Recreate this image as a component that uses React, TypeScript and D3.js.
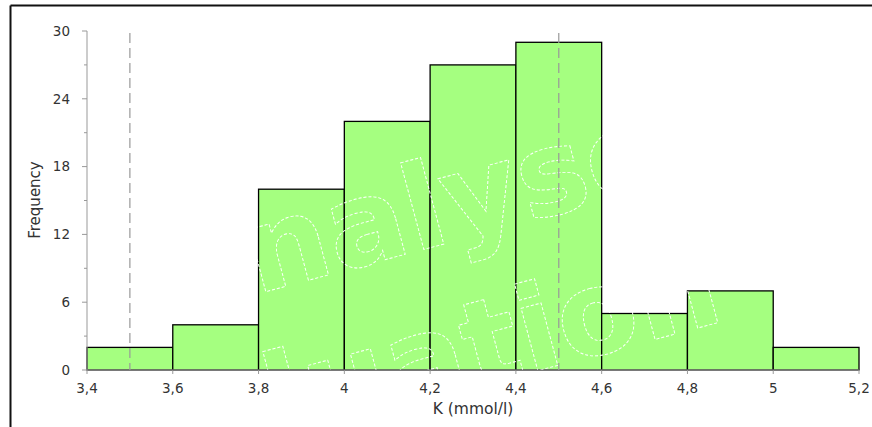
import React from "react";
import * as d3 from "d3";

const binStarts = [3.4, 3.6, 3.8, 4.0, 4.2, 4.4, 4.6, 4.8, 5.0];
const binWidth = 0.2;
const frequencies = [2, 4, 16, 22, 27, 29, 5, 7, 2];
const xTicks = [3.4, 3.6, 3.8, 4.0, 4.2, 4.4, 4.6, 4.8, 5.0, 5.2];
const yTicks = [0, 6, 12, 18, 24, 30];
const yMinorTicks = [3, 9, 15, 21, 27];
const refLines = [3.5, 4.5];
const xTitle = "K (mmol/l)";
const yTitle = "Frequency";
const watermark = ["Analyse-it", "evaluation"];

const W = 872;
const H = 427;
const plot = { left: 87, right: 859, top: 31, bottom: 370 };
const font = "'DejaVu Sans', Verdana, sans-serif";

export default function App() {
  const x = d3.scaleLinear().domain([3.4, 5.2]).range([plot.left, plot.right]);
  const y = d3.scaleLinear().domain([0, 30]).range([plot.bottom, plot.top]);
  const fmt = (v: number) => String(+v.toFixed(1)).replace(".", ",");

  return (
    <svg
      width={W}
      height={H}
      style={{ position: "absolute", left: 0, top: 0, background: "#fff" }}
    >
      <defs>
        <clipPath id="plotclip">
          <rect x={plot.left} y={plot.top} width={plot.right - plot.left} height={plot.bottom - plot.top} />
        </clipPath>
      </defs>
      {/* frame */}
      <line x1={10.5} y1={5.5} x2={W} y2={5.5} stroke="#111" strokeWidth={2} />
      <line x1={10.5} y1={5.5} x2={10.5} y2={H} stroke="#111" strokeWidth={2} />

      {/* bars */}
      {binStarts.map((b, i) => (
        <rect
          key={i}
          x={x(b)}
          y={y(frequencies[i])}
          width={x(b + binWidth) - x(b)}
          height={y(0) - y(frequencies[i])}
          fill="#a5ff80"
          stroke="#000"
          strokeWidth={1.3}
        />
      ))}

      {/* watermark */}
      <g clipPath="url(#plotclip)" fill="none" stroke="#fff" strokeWidth={0.9} strokeDasharray="3,2"
        style={{ fontFamily: "'DejaVu Sans', Verdana, sans-serif", fontWeight: "bold", fontSize: 118 }}>
        <text transform={`translate(168,318) rotate(-15)`}>{watermark[0]}</text>
        <text transform={`translate(48,502) rotate(-15)`}>{watermark[1]}</text>
      </g>

      {/* reference dashed lines */}
      {refLines.map((r, i) => (
        <line key={i} x1={x(r)} x2={x(r)} y1={33} y2={plot.bottom} stroke="#999" strokeWidth={1.2} strokeDasharray="10,5" />
      ))}

      {/* y axis */}
      <line x1={plot.left} x2={plot.left} y1={y(30)} y2={y(0)} stroke="#999" strokeWidth={1} />
      {yTicks.map((t) => (
        <g key={t}>
          <line x1={plot.left - 5} x2={plot.left} y1={y(t)} y2={y(t)} stroke="#999" />
          <text x={70} y={y(t)} dy="0.36em" textAnchor="end" fontFamily={font} fontSize={13.5} fill="#333">
            {t}
          </text>
        </g>
      ))}
      {yMinorTicks.map((t) => (
        <line key={t} x1={plot.left - 3} x2={plot.left} y1={y(t)} y2={y(t)} stroke="#999" />
      ))}
      <text
        transform={`translate(40,200) rotate(-90)`}
        textAnchor="middle"
        fontFamily={font}
        fontSize={15}
        fill="#333"
      >
        {yTitle}
      </text>

      {/* x axis */}
      <line x1={plot.left} x2={plot.right} y1={plot.bottom} y2={plot.bottom} stroke="#999" strokeWidth={1} />
      {xTicks.map((t) => (
        <g key={t}>
          <line x1={x(t)} x2={x(t)} y1={plot.bottom} y2={plot.bottom + 4} stroke="#999" />
          <text x={x(t)} y={393} textAnchor="middle" fontFamily={font} fontSize={13.5} fill="#333">
            {fmt(t)}
          </text>
        </g>
      ))}
      <text x={(plot.left + plot.right) / 2} y={414} textAnchor="middle" fontFamily={font} fontSize={15.5} fill="#333">
        {xTitle}
      </text>
    </svg>
  );
}
